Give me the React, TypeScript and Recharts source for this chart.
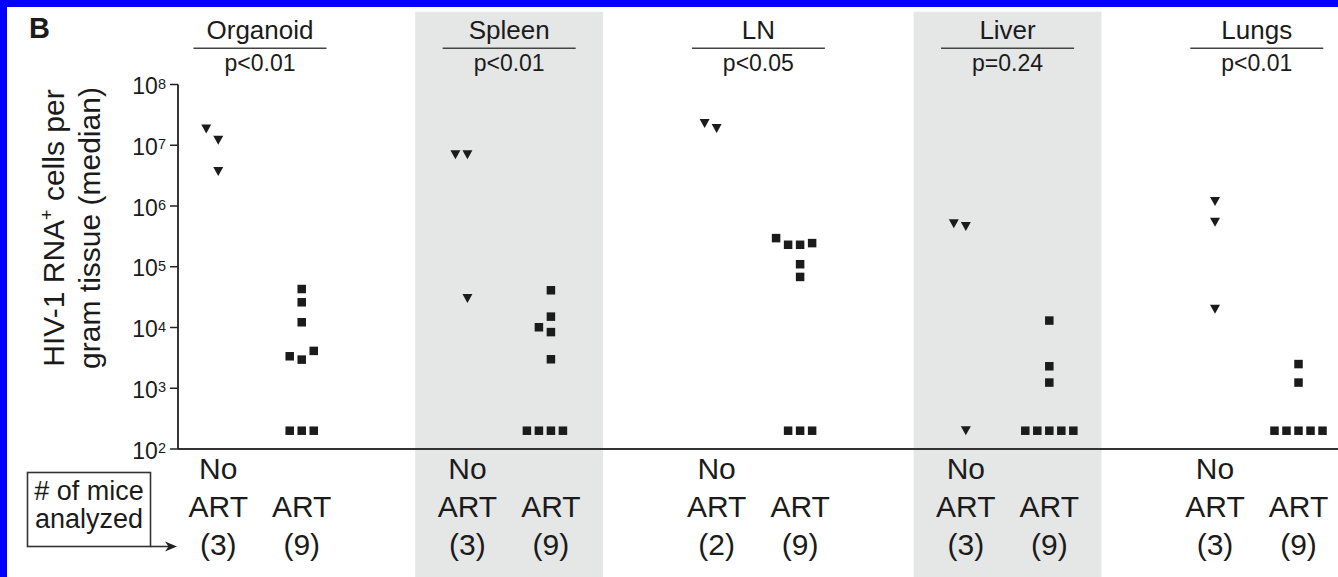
import { ReferenceArea, ReferenceLine, Scatter, ScatterChart, XAxis, YAxis } from 'recharts';

// tissues, p values and number of mice per column
const organs = ['Organoid', 'Spleen', 'LN', 'Liver', 'Lungs'];
const pValues = ['p<0.01', 'p<0.01', 'p<0.05', 'p=0.24', 'p<0.01'];
const noArtCounts = [3, 3, 2, 3, 3];
const artCounts = [9, 9, 9, 9, 9];
const shadedOrgans = ['Spleen', 'Liver'];

// HIV-1 RNA+ cells per gram tissue (median)
const organoidNoArt = [1.21e7, 1.85e7, 3.7e6];
const organoidArt = [4.3e4, 2.6e4, 1.22e4, 2.96e3, 3.36e3, 4.12e3, 200, 200, 200];
const spleenNoArt = [7.0e6, 7.0e6, 3.0e4];
const spleenArt = [4.1e4, 1.51e4, 8.4e3, 1.01e4, 3.0e3, 200, 200, 200, 200];
const lnNoArt = [1.88e7, 2.27e7];
const lnArt = [2.3e5, 2.3e5, 2.45e5, 2.96e5, 1.1e5, 6.8e4, 200, 200, 200];
const liverNoArt = [4.6e5, 5.1e5, 200];
const liverArt = [1.3e4, 2.3e3, 1.24e3, 200, 200, 200, 200, 200];
const lungsNoArt = [1.19e6, 5.4e5, 2.0e4];
const lungsArt = [2.5e3, 1.24e3, 200, 200, 200, 200, 200];

const noArtValues = [organoidNoArt, spleenNoArt, lnNoArt, liverNoArt, lungsNoArt];
const artValues = [organoidArt, spleenArt, lnArt, liverArt, lungsArt];

const yExponents = [2, 3, 4, 5, 6, 7, 8];
const yTicks = yExponents.map((e) => 10 ** e);

const W = 1338;
const H = 577;
const FONT = '"Liberation Sans", Arial, sans-serif';
const INK = '#1b1b1b';
const BAND = '#e5e6e6';

const COL_OFFSET = 0.1675; // half distance between No ART and ART columns
const SLOT = 0.0482; // horizontal step of the point swarm
const X_DOMAIN = [0.171, 4.826];

// simple swarm: points closer than `threshold` decades get pushed sideways
function swarmSlots(values: number[], threshold = 0.195) {
  const placed: { slot: number; lv: number }[] = [];
  const order = [0, -1, 1, -2, 2, -3, 3, -4, 4];
  return values.map((v) => {
    const lv = Math.log10(v);
    for (const s of order) {
      if (!placed.some((p) => p.slot === s && Math.abs(p.lv - lv) < threshold)) {
        placed.push({ slot: s, lv });
        return s;
      }
    }
    return 0;
  });
}

function buildPoints(groups: number[][], side: number) {
  return groups.flatMap((vals, g) => {
    const slots = swarmSlots(vals);
    return vals.map((v, i) => ({ x: g + 0.5 + side * COL_OFFSET + slots[i] * SLOT, y: v }));
  });
}

const noArtPoints = buildPoints(noArtValues, -1);
const artPoints = buildPoints(artValues, 1);

const columnTicks = organs.flatMap((_, g) => [g + 0.5 - COL_OFFSET, g + 0.5 + COL_OFFSET]);

const Triangle = (props: any) => {
  const { cx, cy } = props;
  return <polygon points={`${cx - 5},${cy - 4.5} ${cx + 5},${cy - 4.5} ${cx},${cy + 4.5}`} fill={INK} />;
};

const Square = (props: any) => {
  const { cx, cy } = props;
  return <rect x={cx - 4.25} y={cy - 4.25} width={8.5} height={8.5} fill={INK} />;
};

const GroupTitle = ({ viewBox, index }: any) => {
  const x = viewBox.x;
  return (
    <g fontFamily={FONT} fill={INK}>
      <text x={x} y={39} textAnchor="middle" fontSize={26}>
        {organs[index]}
      </text>
      <line x1={x - 66.5} x2={x + 66.5} y1={48.3} y2={48.3} stroke="#444" strokeWidth={1.6} />
      <text x={x} y={70.5} textAnchor="middle" fontSize={23}>
        {pValues[index]}
      </text>
    </g>
  );
};

const BottomTick = (props: any) => {
  const { x, index } = props;
  const g = Math.floor(index / 2);
  const isArt = index % 2 === 1;
  const n = isArt ? artCounts[g] : noArtCounts[g];
  return (
    <g fontFamily={FONT} fill={INK} fontSize={30} textAnchor="middle">
      {!isArt && (
        <text x={x} y={479}>
          No
        </text>
      )}
      <text x={x} y={517}>
        ART
      </text>
      <text x={x} y={555}>
        ({n})
      </text>
    </g>
  );
};

const YTick = (props: any) => {
  const { y, index } = props;
  return (
    <text x={166} y={y + 9.5} textAnchor="end" fontFamily={FONT} fontSize={23} fill={INK}>
      10
      <tspan dy={-5.5} fontSize={14.5}>
        {yExponents[index]}
      </tspan>
    </text>
  );
};

const Band = (props: any) => <rect x={props.x} y={11.7} width={props.width} height={H - 11.7} fill={BAND} />;

export default function App() {
  return (
    <div style={{ position: 'absolute', left: 0, top: 0, width: W, height: H, background: '#fff', overflow: 'hidden' }}>
      <ScatterChart width={W} height={H} margin={{ top: 84.5, right: 0, bottom: 0, left: 118 }}>
        {organs.map((o, g) =>
          shadedOrgans.includes(o) ? (
            <ReferenceArea
              key={o}
              xAxisId="bottom"
              x1={g + 0.5 - 0.377}
              x2={g + 0.5 + 0.377}
              shape={Band}
              ifOverflow="visible"
            />
          ) : null,
        )}
        {organs.map((o, g) => (
          <ReferenceLine
            key={`t-${o}`}
            xAxisId="bottom"
            x={g + 0.5}
            stroke="none"
            ifOverflow="visible"
            label={(p: any) => <GroupTitle {...p} index={g} />}
          />
        ))}
        <XAxis
          xAxisId="bottom"
          dataKey="x"
          type="number"
          domain={X_DOMAIN}
          allowDataOverflow
          ticks={columnTicks}
          interval={0}
          height={128}
          axisLine={{ stroke: '#333', strokeWidth: 2 }}
          tickLine={false}
          tick={BottomTick}
        />
        <YAxis
          dataKey="y"
          type="number"
          scale="log"
          domain={[100, 1e8]}
          allowDataOverflow
          ticks={yTicks}
          interval={0}
          width={60}
          tickSize={8}
          axisLine={{ stroke: '#222', strokeWidth: 1.8 }}
          tickLine={{ stroke: '#222', strokeWidth: 1.5 }}
          tick={YTick}
        />
        <Scatter xAxisId="bottom" data={noArtPoints} shape={Triangle} isAnimationActive={false} />
        <Scatter xAxisId="bottom" data={artPoints} shape={Square} isAnimationActive={false} />
      </ScatterChart>

      <svg width={W} height={H} style={{ position: 'absolute', left: 0, top: 0, pointerEvents: 'none' }}>
        <text x={29} y={38} fontFamily={FONT} fontSize={29} fontWeight="bold" fill={INK}>
          B
        </text>
        <g fontFamily={FONT} fontSize={30} fill={INK} textAnchor="middle">
          <text transform="translate(64,228) rotate(-90)">
            HIV-1 RNA
            <tspan dy={-11} fontSize={18}>
              +
            </tspan>
            <tspan dy={11}> cells per</tspan>
          </text>
          <text transform="translate(100,228) rotate(-90)">gram tissue (median)</text>
        </g>
        <rect x={27.5} y={472.5} width={123} height={74} fill="none" stroke="#333" strokeWidth={1.6} />
        <g fontFamily={FONT} fontSize={27} fill={INK} textAnchor="middle">
          <text x={89} y={500}>
            # of mice
          </text>
          <text x={89} y={528}>
            analyzed
          </text>
        </g>
        <line x1={150.5} x2={170} y1={546.5} y2={546.5} stroke="#333" strokeWidth={1.6} />
        <polygon points="177,546.5 165,541.5 168.5,546.5 165,551.5" fill="#222" />
      </svg>

      <div style={{ position: 'absolute', left: 0, top: 0, width: W, height: 7, background: '#0000ff' }} />
      <div style={{ position: 'absolute', left: 0, top: 0, width: 7, height: H, background: '#0000ff' }} />
    </div>
  );
}
